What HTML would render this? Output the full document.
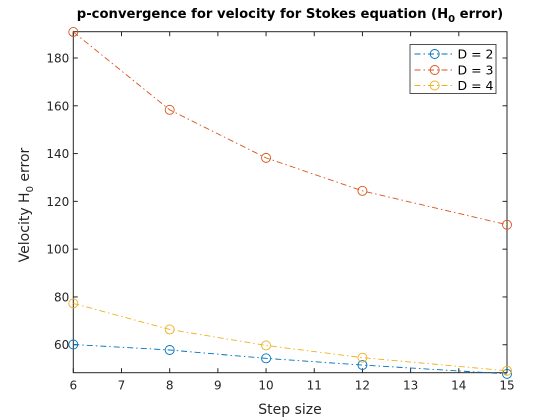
<!DOCTYPE html>
<html><head><meta charset="utf-8"><style>
body{margin:0;background:#fff;}
svg{display:block;font-family:"DejaVu Sans","Liberation Sans",sans-serif;}
</style></head><body>
<svg id="chart" width="560" height="420" viewBox="0 0 560 420" xmlns="http://www.w3.org/2000/svg">
<rect x="0" y="0" width="560" height="420" fill="#fff"/>
<text x="290" y="18" text-anchor="middle" font-size="13.2" font-weight="bold" fill="#000">p-convergence for velocity for Stokes equation (H<tspan font-size="10" dy="4">0</tspan><tspan dy="-4"> error)</tspan></text>
<text x="290" y="414" text-anchor="middle" font-size="14" fill="#262626">Step size</text>
<text transform="translate(29,205) rotate(-90)" text-anchor="middle" font-size="14" fill="#262626">Velocity H<tspan font-size="10" dy="4">0</tspan><tspan dy="-4"> error</tspan></text>
<g id="axes"></g>
<g id="series"></g>
<g id="legend"></g>
</svg>
<script>
const xValues = [6, 8, 10, 12, 15];
const seriesD2 = [60.1, 57.8, 54.3, 51.5, 47.8];
const seriesD3 = [190.9, 158.3, 138.2, 124.4, 110.2];
const seriesD4 = [77.3, 66.4, 59.7, 54.6, 49.1];
const seriesNames = ["D = 2", "D = 3", "D = 4"];
const xTicks = [6, 7, 8, 9, 10, 11, 12, 13, 14, 15];
const yTicks = [60, 80, 100, 120, 140, 160, 180];

const NS = "http://www.w3.org/2000/svg";
const L = 73.3, R = 507, T = 31.7, B = 372.7;
const xMin = 6, xMax = 15, yMin = 48.3, yMax = 191;
function xs(v){ return L + (v - xMin) / (xMax - xMin) * (R - L); }
function ys(v){ return B - (v - yMin) / (yMax - yMin) * (B - T); }
function mk(tag, attrs, parent){
  const e = document.createElementNS(NS, tag);
  for (const k in attrs) e.setAttribute(k, attrs[k]);
  parent.appendChild(e);
  return e;
}
const axes = document.getElementById('axes');
const box = mk('rect', {x:L, y:T, width:R-L, height:B-T, fill:'none', stroke:'#262626', 'stroke-width':1}, axes);


xTicks.forEach(t => {
  const x = xs(t);
  const a = mk('line', {x1:x, x2:x, y1:B, y2:B-4.5, stroke:'#262626'}, axes);
  
  
  const b = mk('line', {x1:x, x2:x, y1:T, y2:T+4.5, stroke:'#262626'}, axes);
  
  
  const tx = mk('text', {x:x, y:B+17, 'text-anchor':'middle', 'font-size':12, fill:'#262626'}, axes);
  tx.textContent = t;
  
  
});
yTicks.forEach(t => {
  const y = ys(t);
  const a = mk('line', {x1:L, x2:L+4.5, y1:y, y2:y, stroke:'#262626'}, axes);
  
  
  const b = mk('line', {x1:R, x2:R-4.5, y1:y, y2:y, stroke:'#262626'}, axes);
  
  
  const tx = mk('text', {x:L-4, y:y+4.5, 'text-anchor':'end', 'font-size':12, fill:'#262626'}, axes);
  tx.textContent = t;
  
  
});
const colors = ['#0072BD', '#D95319', '#EDB120'];
const allSeries = [seriesD2, seriesD3, seriesD4];
const sg = document.getElementById('series');
allSeries.forEach((s, i) => {
  const pts = s.map((v, j) => xs(xValues[j]) + ',' + ys(v)).join(' ');
  const pl = mk('polyline', {points:pts, fill:'none', stroke:colors[i], 'stroke-width':0.9, 'stroke-dasharray':'6 3 1.5 3'}, sg);
  
  
  s.forEach((v, j) => {
    const c = mk('circle', {cx:xs(xValues[j]), cy:ys(v), r:4.5, fill:'none', stroke:colors[i], 'stroke-width':0.9}, sg);
    
    
  });
});
const lg = document.getElementById('legend');
const lbox = mk('rect', {x:410, y:44.5, width:86, height:49, fill:'#fff', stroke:'#262626', 'stroke-width':0.8}, lg);


const rowsY = [54, 70, 85.5];
seriesNames.forEach((n, i) => {
  const y = rowsY[i];
  const ln = mk('line', {x1:414.5, x2:454, y1:y, y2:y, stroke:colors[i], 'stroke-width':0.9, 'stroke-dasharray':'6 3 1.5 3'}, lg);
  
  
  const c = mk('circle', {cx:434.7, cy:y, r:4.5, fill:'none', stroke:colors[i], 'stroke-width':0.9}, lg);
  
  
  const t = mk('text', {x:457.5, y:y+4.5, 'font-size':12.5, fill:'#000'}, lg);
  t.textContent = n;
  
  
});
</script>
</body></html>
